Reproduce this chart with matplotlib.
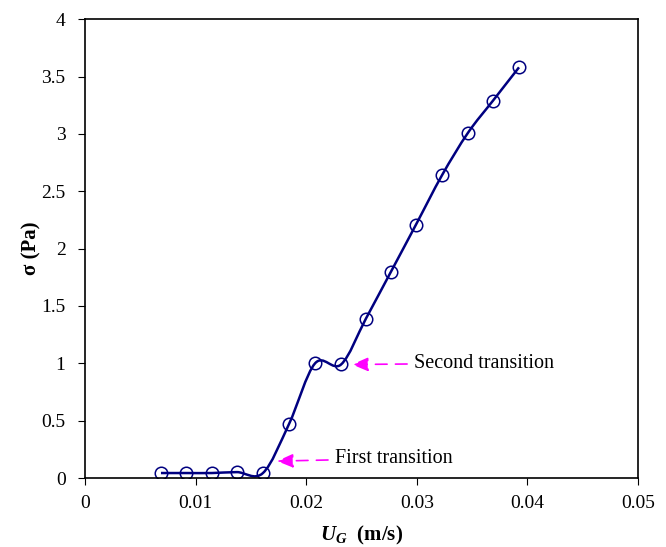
import matplotlib
matplotlib.use("Agg")
import matplotlib.pyplot as plt
from matplotlib.path import Path
from matplotlib.patches import PathPatch
import numpy as np

# data
ug = [0.00687, 0.00913, 0.01148, 0.01374, 0.01609, 0.01844, 0.0208,
      0.02315, 0.0254, 0.02767, 0.02993, 0.03228, 0.03463, 0.03689, 0.03924]
sigma = [0.044, 0.044, 0.044, 0.052, 0.044, 0.47, 1.0,
         0.99, 1.39, 1.80, 2.21, 2.64, 3.01, 3.29, 3.58]

xticks = [0, 0.01, 0.02, 0.03, 0.04, 0.05]
xlabels = ['0', '0.01', '0.02', '0.03', '0.04', '0.05']
yticks = [0, 0.5, 1, 1.5, 2, 2.5, 3, 3.5, 4]
ylabels = ['0', '0.5', '1', '1.5', '2', '2.5', '3', '3.5', '4']

plt.rcParams['font.family'] = ['Liberation Serif', 'DejaVu Serif']
plt.rcParams['mathtext.fontset'] = 'custom'
plt.rcParams['mathtext.rm'] = 'Liberation Serif'
plt.rcParams['mathtext.it'] = 'Liberation Serif:italic'
plt.rcParams['mathtext.bf'] = 'Liberation Serif:bold'
plt.rcParams['mathtext.bfit'] = 'Liberation Serif:italic:bold'

fig = plt.figure(figsize=(6.66, 5.47), dpi=100)
ax = fig.add_axes([0.1276, 0.126, 0.8304, 0.839])

# smoothed line (excel-like bezier through the points)
x = np.array(ug)
y = np.array(sigma)
verts = [(x[0], y[0])]
codes = [Path.MOVETO]
n = len(x)
for i in range(n - 1):
    x0, y0 = (x[i - 1], y[i - 1]) if i > 0 else (x[i], y[i])
    x3, y3 = (x[i + 2], y[i + 2]) if i + 2 < n else (x[i + 1], y[i + 1])
    c1 = (x[i] + (x[i + 1] - x0) / 6, y[i] + (y[i + 1] - y0) / 6)
    c2 = (x[i + 1] - (x3 - x[i]) / 6, y[i + 1] - (y3 - y[i]) / 6)
    verts += [c1, c2, (x[i + 1], y[i + 1])]
    codes += [Path.CURVE4] * 3
ax.add_patch(PathPatch(Path(verts, codes), facecolor='none', edgecolor='#000080', lw=1.8))

ax.plot(ug, sigma, 'o', mfc='none', mec='#000080', ms=9, mew=1.1)

arrow = dict(arrowstyle='-|>,head_length=0.7,head_width=0.3', linestyle=(0, (7, 5)),
             color='magenta', lw=1.2, mutation_scale=14, shrinkA=3, shrinkB=0)
ax.annotate('First transition', xy=(0.01736, 0.148), xytext=(0.0226, 0.17),
            fontsize=14.5, va='center', arrowprops=arrow)
ax.annotate('Second transition', xy=(0.02414, 0.99), xytext=(0.02975, 1.0),
            fontsize=14.5, va='center', arrowprops=arrow)

ax.set_xlim(0, 0.05)
ax.set_ylim(0, 4)
ax.set_xticks(xticks)
ax.set_xticklabels(xlabels)
ax.set_yticks(yticks)
ax.set_yticklabels(ylabels)
ax.tick_params(direction='out', length=5, labelsize=14, top=False, right=False)
ax.tick_params(axis='x', pad=7)
ax.tick_params(axis='y', pad=9)
for s in ax.spines.values():
    s.set_linewidth(1.2)

ax.set_xlabel(r'$\mathbfit{U}_{\mathbfit{G}}$  (m/s)', fontsize=15, fontweight='bold', labelpad=9)
ax.set_ylabel('σ (Pa)', fontsize=15, fontweight='bold', labelpad=0)

fig.savefig('out.png', dpi=100)
